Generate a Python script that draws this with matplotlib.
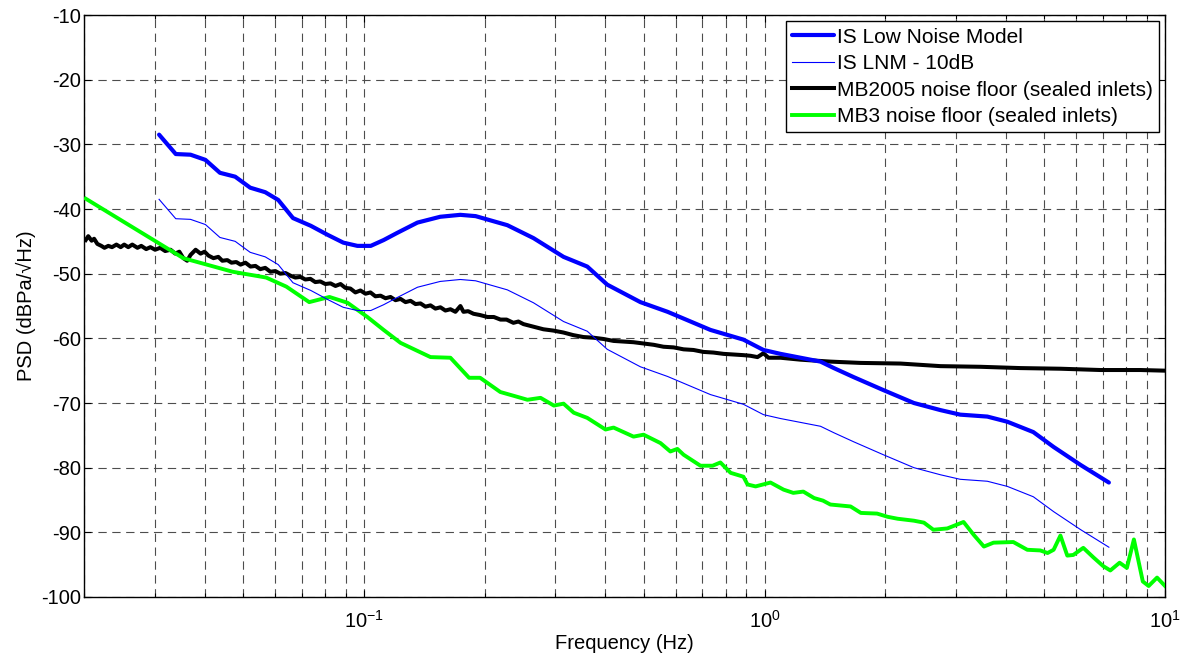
import numpy as np
import matplotlib
matplotlib.use("Agg")
import matplotlib.pyplot as plt

plt.rcParams['font.family'] = ['Liberation Sans', 'DejaVu Sans']
plt.rcParams['lines.scale_dashes'] = False
plt.rcParams['axes.unicode_minus'] = False
plt.rcParams['mathtext.fontset'] = 'custom'
plt.rcParams['mathtext.rm'] = 'Liberation Sans'

# IS Low Noise Model (thick blue)
lnm_f = [0.0308, 0.0339, 0.0369, 0.0402, 0.0437, 0.0477, 0.052, 0.0567, 0.0611,
         0.0665, 0.0737, 0.0812, 0.0888, 0.0963, 0.104, 0.112, 0.121, 0.136,
         0.155, 0.174, 0.19, 0.228, 0.265, 0.315, 0.361, 0.405, 0.49, 0.573,
         0.733, 0.886, 0.994, 1.096, 1.38, 1.49, 1.67, 1.98, 2.36, 2.75, 3.08,
         3.6, 4.04, 4.69, 5.27, 6.16, 7.24]
lnm_db = [-28.5, -31.5, -31.6, -32.4, -34.4, -35.0, -36.7, -37.4, -38.6,
          -41.4, -42.6, -44.0, -45.2, -45.7, -45.7, -44.8, -43.7, -42.1,
          -41.2, -40.9, -41.1, -42.5, -44.5, -47.4, -48.9, -51.7, -54.4, -55.9,
          -58.7, -60.2, -61.8, -62.4, -63.6, -64.6, -66.0, -68.0, -70.0, -71.1, -71.8,
          -72.1, -72.9, -74.5, -76.8, -79.6, -82.3]

# IS LNM - 10 dB (thin blue)
lnm10_db = [-38.5, -41.5, -41.6, -42.4, -44.4, -45.0, -46.7, -47.4, -48.6,
            -51.4, -52.6, -54.0, -55.2, -55.7, -55.7, -54.8, -53.7, -52.1,
            -51.2, -50.9, -51.1, -52.5, -54.5, -57.4, -58.9, -61.7, -64.4, -65.9,
            -68.7, -70.2, -71.8, -72.4, -73.6, -74.6, -76.0, -78.0, -80.0, -81.1, -81.8,
            -82.1, -82.9, -84.5, -86.8, -89.6, -92.3]

# MB2005 noise floor (black)
mb05_f = [0.0202, 0.0205, 0.0209, 0.0212, 0.0216, 0.0221, 0.0225, 0.0230, 0.0235,
          0.0241, 0.0247, 0.0252, 0.0258, 0.0264, 0.0272, 0.0278, 0.0286, 0.0293,
          0.0301, 0.0310, 0.0319, 0.0329, 0.0338, 0.0346, 0.0354, 0.0362, 0.0369,
          0.0380, 0.0391, 0.0400, 0.0409, 0.0421, 0.0433, 0.0443, 0.0456, 0.0467,
          0.0480, 0.0492, 0.0506, 0.0521, 0.0536, 0.0551, 0.0567, 0.0584, 0.0601,
          0.0618, 0.0637, 0.0655, 0.0674, 0.0694, 0.0714, 0.0735, 0.0756, 0.0778,
          0.0801, 0.0825, 0.0849, 0.0874, 0.0899, 0.0925, 0.0952, 0.0980, 0.1009,
          0.1038, 0.1068, 0.1100, 0.1132, 0.1165, 0.1199, 0.1234, 0.1270, 0.1307,
          0.1345, 0.1384, 0.1424, 0.1466, 0.1508, 0.1552, 0.1597, 0.1644, 0.1692,
          0.1741, 0.1772, 0.1820, 0.1877, 0.1950, 0.2034, 0.2110, 0.2192, 0.2270,
          0.2361, 0.2430, 0.2502, 0.2650, 0.2806, 0.2970, 0.3148, 0.3330, 0.3532,
          0.3740, 0.3963, 0.4200, 0.4444, 0.4710, 0.4987, 0.5290, 0.5596, 0.5930,
          0.6279, 0.6650, 0.7038, 0.7460, 0.7901, 0.8370, 0.8862, 0.9230, 0.9605,
          0.9942, 1.023, 1.096, 1.230, 1.462, 1.736, 2.186, 2.751, 3.462, 4.357,
          5.484, 6.902, 8.687, 10.0]
mb05_db = [-44.8, -44.2, -44.9, -44.6, -45.4, -45.7, -46.0, -45.7, -45.9,
           -45.5, -45.9, -45.5, -45.9, -45.5, -46.0, -45.7, -46.2, -45.9,
           -46.3, -46.0, -46.5, -46.3, -46.9, -46.6, -47.6, -48.0, -47.1,
           -46.3, -46.9, -46.6, -47.2, -47.6, -47.4, -48.0, -47.9, -48.3,
           -48.2, -48.6, -48.3, -48.9, -48.8, -49.3, -49.1, -49.7, -49.6,
           -50.0, -49.9, -50.3, -50.6, -50.5, -50.9, -50.8, -51.3, -51.2,
           -51.6, -51.5, -51.9, -51.6, -52.2, -52.3, -52.9, -52.6, -53.1,
           -52.9, -53.5, -53.4, -53.8, -53.6, -54.1, -53.9, -54.4, -54.2,
           -54.7, -54.6, -55.1, -54.9, -55.4, -55.2, -55.7, -55.5, -55.9,
           -55.0, -55.9, -55.8, -56.2, -56.4, -56.7, -56.7, -57.1, -57.1,
           -57.6, -57.4, -57.8, -58.2, -58.6, -58.8, -59.1, -59.5, -59.8,
           -59.9, -60.1, -60.4, -60.5, -60.6, -60.8, -61.0, -61.3, -61.4,
           -61.7, -61.8, -62.1, -62.2, -62.4, -62.5, -62.6, -62.7, -62.9,
           -62.3, -63.0, -63.0, -63.3, -63.6, -63.8, -63.9, -64.3, -64.4, -64.6,
           -64.7, -64.9, -64.9, -65.0]

# MB3 noise floor (green)
mb3_f = [0.0202, 0.0354, 0.047, 0.057, 0.064, 0.073, 0.082, 0.091, 0.102, 0.112,
         0.1234, 0.1466, 0.1644, 0.183, 0.195, 0.219, 0.240, 0.256, 0.276, 0.298,
         0.315, 0.334, 0.361, 0.401, 0.420, 0.471, 0.499, 0.550, 0.582, 0.606,
         0.628, 0.692, 0.742, 0.776, 0.823, 0.886, 0.907, 0.950, 1.035, 1.116,
         1.18, 1.25, 1.33, 1.40, 1.46, 1.64, 1.74, 1.91, 2.03, 2.15, 2.36, 2.50,
         2.64, 2.86, 3.14, 3.33, 3.53, 3.73, 4.18, 4.53, 4.88, 5.09, 5.27, 5.48,
         5.70, 5.90, 6.25, 6.63, 7.0, 7.3, 7.7, 8.03, 8.36, 8.8, 9.1, 9.55, 10.0]
mb3_db = [-38.4, -47.6, -49.7, -50.6, -52.0, -54.4, -53.6, -54.5, -56.7, -58.7,
          -60.7, -62.9, -63.0, -66.1, -66.1, -68.3, -69.0, -69.5, -69.2, -70.4,
          -70.1, -71.5, -72.3, -74.1, -73.8, -75.2, -74.9, -76.2, -77.5, -77.1,
          -78.0, -79.7, -79.7, -79.2, -80.8, -81.4, -82.6, -82.9, -82.3, -83.4,
          -83.9, -83.7, -84.7, -85.1, -85.7, -86.0, -87.0, -87.1, -87.6, -87.9, -88.2, -88.5,
          -89.6, -89.4, -88.4, -90.4, -92.2, -91.6, -91.5, -92.7, -92.8, -93.2, -92.7, -90.5,
          -93.6, -93.5, -92.4, -93.9, -95.2, -95.9, -94.7, -95.5, -91.1, -97.6, -98.3, -97.0, -98.3]

fig = plt.figure(figsize=(11.81, 6.59), dpi=100)
ax = fig.add_axes([0.0711, 0.0941, 0.9154, 0.8831])

ax.semilogx(lnm_f, lnm_db, color="#0000ff", linewidth=3.0, label="IS Low Noise Model",
            solid_capstyle="round", zorder=5)
ax.semilogx(lnm_f, lnm10_db, color="#0000ff", linewidth=0.8, label="IS LNM - 10dB", zorder=5)
ax.semilogx(mb05_f, mb05_db, color="black", linewidth=2.9,
            label="MB2005 noise floor (sealed inlets)", zorder=4)
ax.semilogx(mb3_f, mb3_db, color="#00ff00", linewidth=2.8,
            label="MB3 noise floor (sealed inlets)", zorder=4)

ax.set_xlim(0.02, 10)
ax.set_ylim(-100, -10)
ax.set_yticks(np.arange(-100, -9, 10))

ax.grid(True, which="major", linestyle=(0, (6, 4)), color="0.3", linewidth=0.8)
ax.grid(True, which="minor", axis="x", linestyle=(0, (6, 4)), color="0.3", linewidth=0.8)

ax.tick_params(which="both", direction="in", top=True, right=True, labelsize=14.5,
               width=0.8, color="black")
ax.tick_params(which="major", length=5)
ax.tick_params(which="minor", length=3)
ax.tick_params(axis="x", pad=9)
ax.tick_params(axis="y", pad=2)
for s in ax.spines.values():
    s.set_linewidth(1.0)

ax.set_xlabel("Frequency (Hz)", fontsize=14.5, labelpad=2)
ax.set_ylabel("PSD (dBPa/\u221aHz)", fontsize=14.5, labelpad=4)

leg = ax.legend(loc="upper right", fontsize=15, frameon=True, fancybox=False,
                framealpha=1, edgecolor="black", handlelength=2.0, handletextpad=0.15,
                borderpad=0.3, labelspacing=0.36, borderaxespad=0.3)
leg.get_frame().set_linewidth(1.0)

fig.savefig("out.png", dpi=100)
